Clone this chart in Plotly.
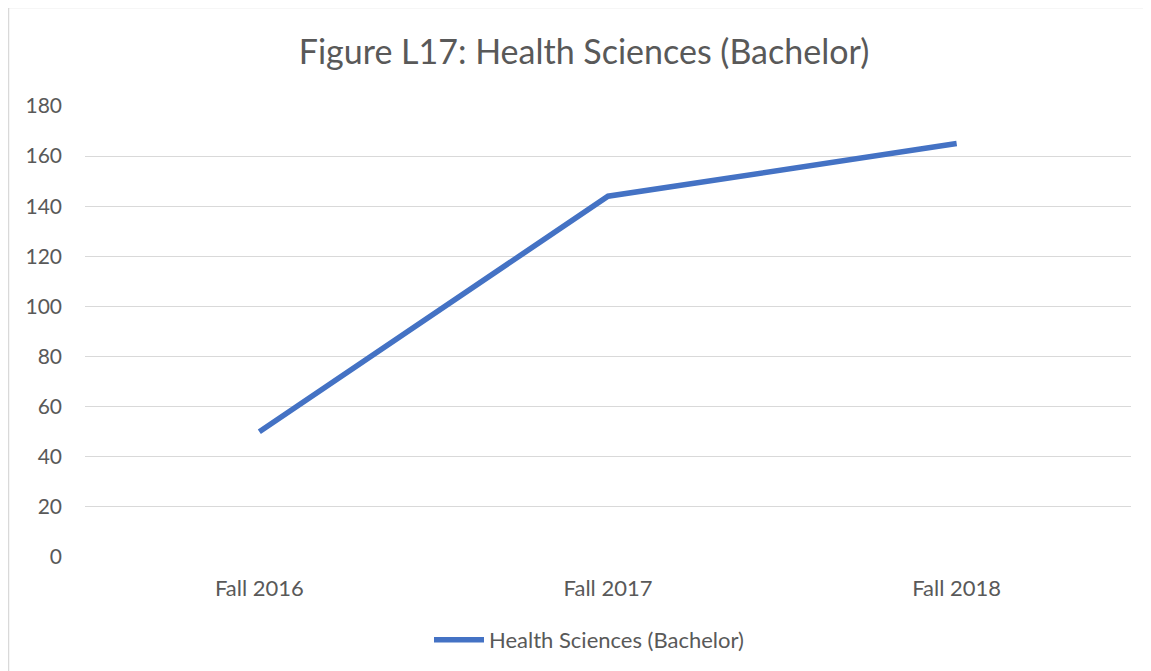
import plotly.graph_objects as go

categories = ["Fall 2016", "Fall 2017", "Fall 2018"]
values = [50, 144, 165]
series_name = "Health Sciences (Bachelor)"
title_text = "Figure L17: Health Sciences (Bachelor)"
y_ticks = list(range(0, 181, 20))

# page body has an 8px margin, so figure coordinates = page coordinates - 8
OFF = 8
W, H = 1180, 690
ml = 85 - OFF
mt = 106 - OFF
mr = W - (1131 - OFF)
mb = H - (557 - OFF)
pw = W - ml - mr
ph = H - mt - mb

fig = go.Figure()
fig.add_trace(go.Scatter(
    x=categories, y=values, mode="lines", name=series_name,
    line=dict(color="#4472C4", width=5.5, shape="linear"),
))

def px_to_paper_x(px):
    return (px - OFF - ml) / pw

def px_to_paper_y(py):
    return (H - mb - (py - OFF)) / ph

fig.update_layout(
    width=W, height=H,
    margin=dict(l=ml, r=mr, t=mt, b=mb),
    paper_bgcolor="white", plot_bgcolor="white",
    font=dict(family="Lato, 'Open Sans', sans-serif", color="#595959", size=22),
    title=dict(text=title_text, xref="paper", x=px_to_paper_x(584), xanchor="center",
               y=1 - (52 - OFF) / H, yanchor="middle",
               font=dict(size=34, color="#595959")),
    showlegend=True,
    legend=dict(orientation="h", x=px_to_paper_x(589), xanchor="center", y=px_to_paper_y(640), yanchor="middle",
                font=dict(size=22, color="#595959"), itemwidth=50),
    xaxis=dict(type="category", showgrid=False, showline=False, zeroline=False,
               ticks="", tickfont=dict(size=22, color="#595959"), range=[-0.5, 2.5],
               ticklabelstandoff=16),
    yaxis=dict(range=[0, 180], tickvals=y_ticks, showgrid=True, gridcolor="#D9D9D9",
               gridwidth=1.3, zeroline=False, showline=False, ticks="",
               tickfont=dict(size=21, color="#595959"), ticklabelstandoff=22),
    shapes=[dict(type="rect", xref="paper", yref="paper",
                 x0=px_to_paper_x(8.5), x1=px_to_paper_x(1175),
                 y0=px_to_paper_y(690), y1=px_to_paper_y(7.5),
                 line=dict(color="#D9D9D9", width=1.5), fillcolor="rgba(0,0,0,0)", layer="below")],
)

fig.write_html("out.html")
